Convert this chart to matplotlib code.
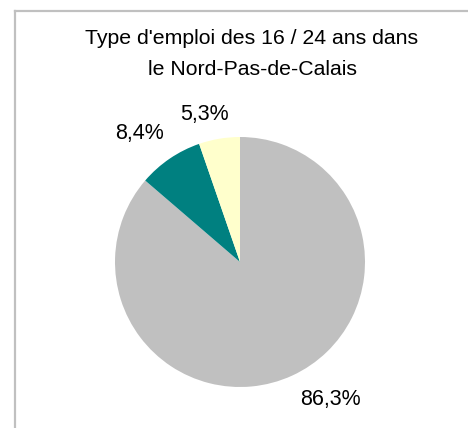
import numpy as np
import matplotlib
matplotlib.use("Agg")
from matplotlib import pyplot as plt
from matplotlib.lines import Line2D

# data
categories = ["Autre", "Emploi aidé", "Intérim"]
values = [86.3, 8.4, 5.3]
labels = ["86,3%", "8,4%", "5,3%"]
colors = ["#C0C0C0", "#008080", "#FFFFCC"]
title = "Type d'emploi des 16 / 24 ans dans\nle Nord-Pas-de-Calais"

plt.rcParams['font.family'] = ['Liberation Sans', 'DejaVu Sans']

W, H = 468, 428
fig = plt.figure(figsize=(W / 100, H / 100), dpi=100)

# chart frame (only top and left edges visible)
frame_col = "#C0C0C0"
fig.add_artist(Line2D([15 / W, 1], [1 - 10.5 / H, 1 - 10.5 / H], color=frame_col, lw=1.6,
                      transform=fig.transFigure))
fig.add_artist(Line2D([15 / W, 15 / W], [0, 1 - 10.5 / H], color=frame_col, lw=1.6,
                      transform=fig.transFigure))

# pie axes: center (240, 262) px, radius 125 px
cx, cy, r = 240, 262, 125
ax = fig.add_axes([(cx - r) / W, (H - cy - r) / H, 2 * r / W, 2 * r / H])
wedges, _ = ax.pie(values, colors=colors, startangle=90, counterclock=False,
                   radius=1, wedgeprops=dict(linewidth=0))
ax.set_xlim(-1, 1)
ax.set_ylim(-1, 1)
ax.set_aspect('equal')
ax.axis('off')

# data labels, placed around each wedge's mid angle
label_r = [1.32, 1.30, 1.21]
label_shift = [8.7, 3.8, 3.9]
for w, lab, lr, sh in zip(wedges, labels, label_r, label_shift):
    mid = np.deg2rad((w.theta1 + w.theta2) / 2 + sh)
    ax.text(lr * np.cos(mid), lr * np.sin(mid), lab, ha='center', va='center',
            fontsize=15.5, color='black', clip_on=False)

fig.text(252 / W, 1 - 54 / H, title, ha='center', va='center', fontsize=15.3,
         linespacing=1.8)

plt.savefig("out.png", dpi=100)
